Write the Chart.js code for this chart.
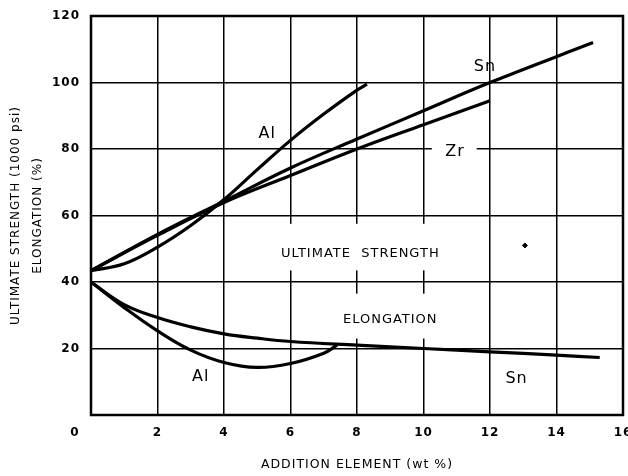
<!DOCTYPE html>
<html>
<head>
<meta charset="utf-8">
<script src="https://cdn.jsdelivr.net/npm/chart.js@4.4.0/dist/chart.umd.min.js"></script>
<style>
  html, body { margin: 0; padding: 0; background: #fff; }
</style>
</head>
<body>
<canvas id="place__graph1" width="628" height="476"></canvas>
<script>
// ultimate strength (1000 psi) vs. addition element (wt %)
const strengthAlX = [0, 1, 2, 3, 4, 5, 6, 7, 8, 8.3];
const strengthAl  = [43.4, 45.5, 50.5, 57, 64.8, 73.8, 82.6, 90.5, 97.7, 99.5];
const strengthSnX = [0, 2, 4, 6, 8, 10, 12, 15.1];
const strengthSn  = [43.4, 54.3, 64.3, 74.3, 83, 91.5, 100, 112];
const strengthZrX = [0, 2, 4, 6, 8, 10, 12];
const strengthZr  = [43.4, 54, 63.9, 72, 80, 87.3, 94.5];

// elongation (%)
const elongSnX = [0, 1, 2, 3, 4, 5, 6, 8, 10, 12, 14, 15.3];
const elongSn  = [40, 33.2, 29.3, 26.5, 24.4, 23.1, 22.1, 21, 20, 19, 18, 17.3];
const elongAlX = [0, 1, 2, 3, 4, 5, 6, 7, 7.4];
const elongAl  = [40, 32.3, 25.3, 19.5, 15.8, 14.3, 15.5, 18.6, 21];

// stray mark on the plate
const speckX = [13.05];
const speckY = [51];

const xTicks = [0, 2, 4, 6, 8, 10, 12, 14, 16];
const yTicks = [0, 20, 40, 60, 80, 100, 120];

const FONT = "'DejaVu Sans', sans-serif";

function pts(xs, ys) {
    return xs.map((x, i) => ({ x: x, y: ys[i] }));
}

function curve(label, xs, ys) {
    return {
        label: label,
        data: pts(xs, ys),
        showLine: true,
        borderColor: '#000',
        borderWidth: 3.2,
        pointRadius: 0,
        tension: 0.4,
        fill: false
    };
}

// white patches that break the grid behind the lettering [x0, x1, y0, y1]
const clearBoxes = [
    [4.25, 11.75, 43.5, 57.5],
    [6.35, 11.7, 23, 36.5],
    [10.25, 11.6, 78.3, 81.7]
];

// lettering inside the plot [text, x, y, size]
const notes = [
    ['Al', 5.3, 84.5, 16],
    ['Sn', 11.85, 104.6, 16],
    ['Zr', 10.95, 79.2, 16],
    ['ULTIMATE  STRENGTH', 8.1, 48.6, 13],
    ['ELONGATION', 9.0, 28.6, 13],
    ['Al', 3.3, 11.4, 16],
    ['Sn', 12.8, 11.0, 16]
];

const plateLabels = {
    id: 'plateLabels',
    beforeDraw(chart) {
        chart.ctx.letterSpacing = '1px';
    },
    beforeDatasetsDraw(chart) {
        const { ctx, chartArea: a, scales: { x, y } } = chart;
        ctx.save();
        ctx.fillStyle = '#fff';
        clearBoxes.forEach(b => {
            const x0 = x.getPixelForValue(b[0]), x1 = x.getPixelForValue(b[1]);
            const y0 = y.getPixelForValue(b[3]), y1 = y.getPixelForValue(b[2]);
            ctx.fillRect(x0, y0, x1 - x0, y1 - y0);
        });
        ctx.strokeStyle = '#000';
        ctx.lineWidth = 2.5;
        ctx.strokeRect(a.left, a.top, a.right - a.left, a.bottom - a.top);
        ctx.restore();
    },
    afterDatasetsDraw(chart) {
        const { ctx, chartArea: a, scales: { x, y } } = chart;
        ctx.save();
        ctx.fillStyle = '#000';
        ctx.textAlign = 'center';
        ctx.textBaseline = 'middle';
        notes.forEach(n => {
            ctx.font = n[3] + 'px ' + FONT;
            ctx.fillText(n[0], x.getPixelForValue(n[1]), y.getPixelForValue(n[2]));
        });
        // shared origin label
        ctx.font = 'bold 12px ' + FONT;
        ctx.fillText('0', a.left - 16, a.bottom + 18);
        ctx.restore();
    }
};

const ctx = document.getElementById('place__graph1').getContext('2d');

new Chart(ctx, {
    type: 'scatter',
    data: {
        datasets: [
            curve('Al strength', strengthAlX, strengthAl),
            curve('Sn strength', strengthSnX, strengthSn),
            curve('Zr strength', strengthZrX, strengthZr),
            curve('Sn elongation', elongSnX, elongSn),
            curve('Al elongation', elongAlX, elongAl),
            {
                label: 'speck',
                data: pts(speckX, speckY),
                pointRadius: 2.5,
                pointStyle: 'rectRot',
                backgroundColor: '#000',
                borderColor: '#000'
            }
        ]
    },
    options: {
        responsive: false,
        animation: false,
        layout: { padding: { top: 16, right: 5, left: 0, bottom: 0 } },
        plugins: {
            legend: { display: false },
            tooltip: { enabled: false }
        },
        scales: {
            x: {
                type: 'linear',
                min: xTicks[0],
                max: xTicks[xTicks.length - 1],
                afterBuildTicks: s => { s.ticks = xTicks.map(v => ({ value: v })); },
                afterFit: s => { s.height = 61; s.paddingLeft = 0; s.paddingRight = 0; },
                ticks: {
                    color: '#000',
                    padding: 11,
                    maxRotation: 0,
                    font: { family: FONT, size: 12, weight: 'bold' },
                    callback: v => v === 0 ? '' : v
                },
                grid: { color: '#000', lineWidth: 1.5, drawTicks: false },
                border: { display: false },
                title: {
                    display: true,
                    text: 'ADDITION ELEMENT (wt %)',
                    color: '#000',
                    font: { family: FONT, size: 12.5 },
                    padding: { top: 0, bottom: 4 }
                }
            },
            y: {
                type: 'linear',
                min: yTicks[0],
                max: yTicks[yTicks.length - 1],
                afterBuildTicks: s => { s.ticks = yTicks.map(v => ({ value: v })); },
                afterFit: s => { s.width = 91; s.paddingTop = 0; s.paddingBottom = 0; },
                ticks: {
                    color: '#000',
                    padding: 11,
                    font: { family: FONT, size: 12, weight: 'bold' },
                    callback: v => v === 0 ? '' : v
                },
                grid: { color: '#000', lineWidth: 1.5, drawTicks: false },
                border: { display: false },
                title: {
                    display: true,
                    text: ['ULTIMATE STRENGTH (1000 psi)', 'ELONGATION (%)'],
                    color: '#000',
                    font: { family: FONT, size: 12, lineHeight: 1.9 },
                    padding: { top: 4, bottom: 0 }
                }
            }
        }
    },
    plugins: [plateLabels]
});
</script>
</body>
</html>
